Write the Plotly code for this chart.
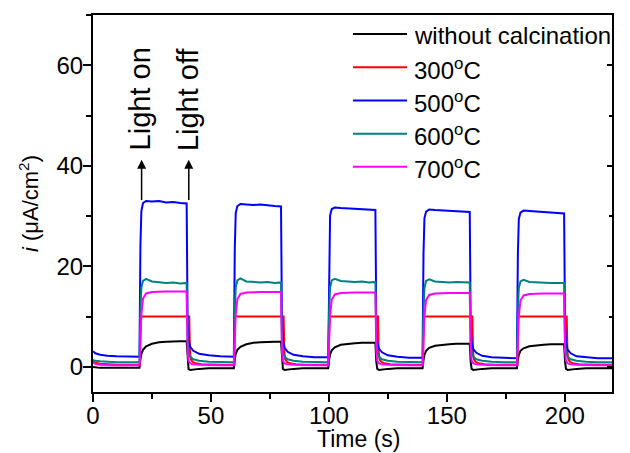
import plotly.graph_objects as go

# Shared time base (s) for the continuously sampled samples
TIME = [0, 1, 3, 6, 10, 15, 19.7,
        20.1, 20.5, 21.2, 22.5, 25, 28, 31, 34, 37, 39.7,
        40.1, 40.5, 41.2, 42.5, 45, 49, 54, 59.7,
        60.1, 60.5, 61.2, 62.5, 65, 68, 71, 74, 77, 79.7,
        80.1, 80.5, 81.2, 82.5, 85, 89, 94, 99.7,
        100.1, 100.5, 101.2, 102.5, 105, 108, 111, 114, 117, 119.7,
        120.1, 120.5, 121.2, 122.5, 125, 129, 134, 139.7,
        140.1, 140.5, 141.2, 142.5, 145, 148, 151, 154, 157, 159.7,
        160.1, 160.5, 161.2, 162.5, 165, 169, 174, 179.7,
        180.1, 180.5, 181.2, 182.5, 185, 188, 191, 194, 197, 199.7,
        200.1, 200.5, 201.2, 202.5, 205, 209, 214, 220]

# Photocurrent density (uA/cm2)
I_UNCALCINED = [0.0, -0.1, -0.2, -0.2, -0.2, -0.2, -0.2,
                1.5, 2.6, 3.4, 4.1, 4.6, 4.9, 5.0, 5.1, 5.1, 5.1,
                1.0, -0.4, -0.6, -0.5, -0.4, -0.3, -0.3, -0.3,
                1.5, 2.6, 3.4, 4.0, 4.5, 4.8, 4.9, 5.0, 5.0, 5.0,
                1.0, -0.4, -0.6, -0.5, -0.4, -0.3, -0.3, -0.3,
                1.4, 2.5, 3.3, 3.9, 4.4, 4.6, 4.7, 4.8, 4.8, 4.8,
                1.0, -0.4, -0.6, -0.5, -0.4, -0.3, -0.3, -0.3,
                1.4, 2.4, 3.2, 3.8, 4.2, 4.4, 4.5, 4.6, 4.6, 4.6,
                1.0, -0.4, -0.6, -0.5, -0.4, -0.3, -0.3, -0.3,
                1.4, 2.4, 3.2, 3.7, 4.1, 4.3, 4.4, 4.5, 4.5, 4.5,
                1.0, -0.4, -0.6, -0.5, -0.4, -0.3, -0.3, -0.3]

I_500 = [3.1, 2.7, 2.4, 2.2, 2.1, 2.0, 2.0,
         24.0, 31.0, 32.6, 33.0, 32.9, 33.0, 32.7, 32.8, 32.6, 32.5,
         9.0, 5.5, 4.0, 3.2, 2.6, 2.3, 2.1, 2.0,
         23.5, 30.6, 32.0, 32.4, 32.3, 32.2, 32.3, 32.1, 32.0, 31.9,
         8.6, 5.2, 3.8, 3.0, 2.4, 2.1, 1.9, 1.9,
         23.0, 30.1, 31.4, 31.7, 31.6, 31.5, 31.5, 31.3, 31.3, 31.2,
         8.3, 5.0, 3.6, 2.9, 2.3, 2.0, 1.8, 1.8,
         22.6, 29.6, 30.9, 31.3, 31.2, 31.1, 31.1, 31.0, 30.9, 30.8,
         8.1, 4.9, 3.5, 2.8, 2.2, 1.9, 1.8, 1.7,
         22.4, 29.4, 30.7, 31.1, 31.0, 30.9, 30.9, 30.8, 30.6, 30.5,
         8.0, 4.8, 3.4, 2.7, 2.1, 1.9, 1.7, 1.7]

I_600 = [1.4, 1.2, 1.1, 1.0, 0.9, 0.9, 0.9,
         11.0, 15.8, 17.1, 17.5, 17.0, 16.8, 16.7, 16.8, 16.6, 16.7,
         5.0, 2.9, 2.0, 1.5, 1.2, 1.0, 0.9, 0.9,
         11.0, 15.8, 17.2, 17.6, 17.0, 16.9, 16.8, 16.9, 16.7, 16.8,
         5.0, 2.9, 2.0, 1.5, 1.2, 1.0, 0.9, 0.9,
         11.0, 15.8, 17.2, 17.5, 17.1, 17.0, 16.9, 17.0, 16.8, 16.9,
         5.0, 2.9, 2.0, 1.5, 1.2, 1.0, 0.9, 0.9,
         11.0, 15.7, 17.1, 17.4, 17.0, 16.9, 16.8, 16.9, 16.8, 16.8,
         5.0, 2.9, 2.0, 1.5, 1.2, 1.0, 0.9, 0.9,
         11.0, 15.7, 17.0, 17.3, 16.9, 16.8, 16.8, 16.7, 16.7, 16.7,
         5.0, 2.9, 2.0, 1.5, 1.2, 1.0, 0.9, 0.9]

I_700 = [0.9, 0.6, 0.4, 0.3, 0.3, 0.3, 0.3,
         5.0, 10.5, 13.6, 14.6, 14.9, 15.0, 15.0, 15.0, 15.0, 15.0,
         3.0, 1.2, 0.7, 0.5, 0.4, 0.3, 0.3, 0.3,
         5.0, 10.4, 13.5, 14.5, 14.8, 14.9, 14.9, 14.9, 14.9, 14.9,
         3.0, 1.2, 0.7, 0.5, 0.4, 0.3, 0.3, 0.3,
         5.0, 10.3, 13.4, 14.4, 14.7, 14.8, 14.8, 14.8, 14.8, 14.8,
         3.0, 1.2, 0.7, 0.5, 0.4, 0.3, 0.3, 0.3,
         5.0, 10.2, 13.3, 14.3, 14.6, 14.7, 14.7, 14.7, 14.7, 14.7,
         3.0, 1.2, 0.7, 0.5, 0.4, 0.3, 0.3, 0.3,
         5.0, 10.1, 13.2, 14.2, 14.5, 14.6, 14.6, 14.6, 14.6, 14.6,
         3.0, 1.2, 0.7, 0.5, 0.4, 0.3, 0.3, 0.3]

# The 300 C sample switches as a sharp step, so it has its own time base
TIME_300 = [0, 1, 3, 6, 10, 15,
            19.9, 20.2, 40.8, 41.1, 41.5, 42.2, 43.5, 46, 50, 55,
            59.9, 60.2, 80.8, 81.1, 81.5, 82.2, 83.5, 86, 90, 95,
            99.9, 100.2, 120.8, 121.1, 121.5, 122.2, 123.5, 126, 130, 135,
            139.9, 140.2, 160.8, 161.1, 161.5, 162.2, 163.5, 166, 170, 175,
            179.9, 180.2, 200.8, 201.1, 201.5, 202.2, 203.5, 206, 210, 215, 220]
I_300 = [1.2, 0.8, 0.6, 0.5, 0.4, 0.4,
         0.4, 10.0, 10.0, 3.0, 1.5, 1.0, 0.7, 0.5, 0.4, 0.4,
         0.4, 10.0, 10.0, 3.0, 1.5, 1.0, 0.7, 0.5, 0.4, 0.4,
         0.4, 10.0, 10.0, 3.0, 1.5, 1.0, 0.7, 0.5, 0.4, 0.4,
         0.4, 10.0, 10.0, 3.0, 1.5, 1.0, 0.7, 0.5, 0.4, 0.4,
         0.4, 10.0, 10.0, 3.0, 1.5, 1.0, 0.7, 0.5, 0.4, 0.4,
         0.4]

LABELS = ["without calcination", "300<sup>o</sup>C", "500<sup>o</sup>C",
          "600<sup>o</sup>C", "700<sup>o</sup>C"]
COLORS = ["#000000", "#ff0000", "#0000ff", "#008080", "#ff00ff"]
SERIES = [(TIME, I_UNCALCINED), (TIME_300, I_300), (TIME, I_500),
          (TIME, I_600), (TIME, I_700)]

FONT = "Liberation Sans, Arial, sans-serif"

fig = go.Figure()
for (t, i), name, color in zip(SERIES, LABELS, COLORS):
    fig.add_trace(go.Scatter(x=t, y=i, mode="lines", name=name,
                             line=dict(color=color, width=2),
                             showlegend=False))
# empty trace so the right-hand tick axis is laid out
fig.add_trace(go.Scatter(x=[], y=[], yaxis="y2", showlegend=False,
                         hoverinfo="skip"))

# Legend drawn as line samples + labels in the upper right corner
legend_rows = [66.2, 59.6, 53.0, 46.4, 39.8]
for yv, name, color in zip(legend_rows, LABELS, COLORS):
    fig.add_shape(type="line", xref="x", yref="y", x0=110.2, x1=133.1,
                  y0=yv, y1=yv, line=dict(color=color, width=2))
    fig.add_annotation(x=135.4, y=yv - 0.3, xref="x", yref="y", text=name,
                       showarrow=False, xanchor="left", yanchor="middle",
                       font=dict(family=FONT, size=24, color="black"))

# Light on / light off markers
for xv, txt in [(20.6, "Light on"), (40.6, "Light off")]:
    fig.add_annotation(x=xv, y=41.2, ax=xv, ay=32.9, xref="x", yref="y",
                       axref="x", ayref="y", text="", showarrow=True,
                       arrowhead=2, arrowsize=1.2, arrowwidth=1.5,
                       arrowcolor="black")
    fig.add_annotation(x=xv - 0.6, y=42.6, xref="x", yref="y", text=txt,
                       textangle=-90, showarrow=False, xanchor="center",
                       yanchor="bottom",
                       font=dict(family=FONT, size=29, color="black"))

# x-axis title, sitting on the bottom edge of the page
fig.add_annotation(x=0.5116, y=-0.1605, xref="paper", yref="paper",
                   text="Time (s)", showarrow=False, xanchor="center",
                   yanchor="bottom", borderpad=0,
                   font=dict(family=FONT, size=23, color="black"))

axis_common = dict(showline=True, linecolor="black", linewidth=2,
                   ticks="outside", ticklen=8, tickwidth=2, tickcolor="black",
                   showgrid=False, zeroline=False, automargin=False,
                   tickfont=dict(family=FONT, size=24, color="black"))

fig.update_layout(
    width=630, height=453,
    margin=dict(l=93, r=18, t=15, b=61),
    paper_bgcolor="white", plot_bgcolor="white",
    showlegend=False,
    xaxis=dict(range=[0, 220], dtick=50, tick0=0, mirror=True,
               ticklabelstandoff=-7,
               minor=dict(ticks="outside", dtick=25, ticklen=5,
                          tickwidth=2, tickcolor="black"),
               **axis_common),
    yaxis=dict(range=[-5, 70], dtick=20, tick0=0, mirror=True,
               ticklabelstandoff=-5,
               minor=dict(ticks="outside", dtick=10, ticklen=5,
                          tickwidth=2, tickcolor="black"),
               title=dict(text="<i>i</i> (\u03bcA/cm<sup>2</sup>)", standoff=12,
                          font=dict(family=FONT, size=22, color="black")),
               **axis_common),
    # inward ticks along the right-hand frame
    yaxis2=dict(range=[-5, 70], dtick=20, tick0=0, overlaying="y",
                side="right", anchor="x", showline=False, showgrid=False,
                zeroline=False, ticks="inside", ticklen=5, tickwidth=2,
                tickcolor="black", showticklabels=False, automargin=False,
                minor=dict(ticks="inside", dtick=10, ticklen=3,
                           tickwidth=2, tickcolor="black")),
)

fig.write_html("out.html")
